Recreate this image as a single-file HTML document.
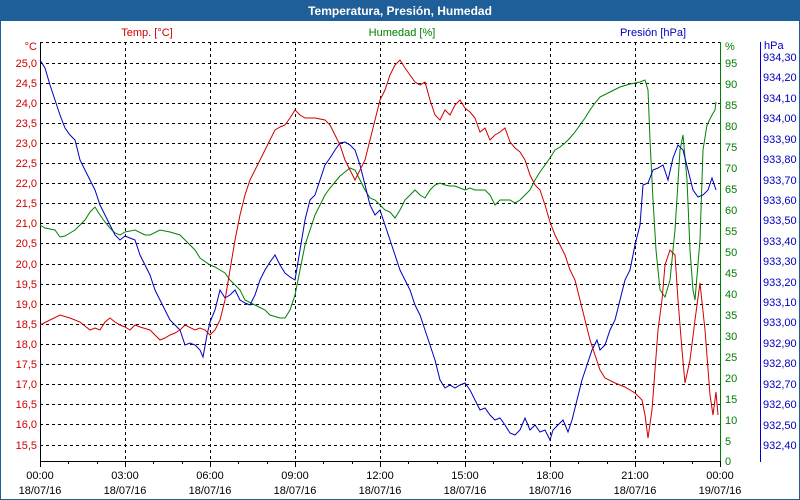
<!DOCTYPE html>
<html><head><meta charset="utf-8"><style>
body{margin:0;background:#fff}
svg{display:block;font-family:"Liberation Sans",sans-serif}
</style></head><body>
<svg width="800" height="500" viewBox="0 0 800 500">
<rect x="0" y="0" width="800" height="500" fill="#fff"/>
<rect x="0.5" y="0.5" width="799" height="499" fill="none" stroke="#1f5f99"/>
<rect x="0" y="0" width="800" height="21" fill="#1f5f99"/>
<text x="400" y="15" fill="#fff" font-size="12" font-weight="bold" text-anchor="middle">Temperatura, Presión, Humedad</text>
<g font-size="11">
<text x="147" y="36" fill="#d00000" text-anchor="middle">Temp. [°C]</text>
<text x="402" y="36" fill="#008000" text-anchor="middle">Humedad [%]</text>
<text x="653" y="36" fill="#0000c0" text-anchor="middle">Presión [hPa]</text>
</g>
<!-- grid -->
<g stroke="#000" stroke-dasharray="3,3" stroke-width="1">
<line x1="40" y1="42.5" x2="720" y2="42.5"/>
<line x1="40" y1="63.5" x2="720" y2="63.5"/><line x1="40" y1="83.5" x2="720" y2="83.5"/><line x1="40" y1="103.5" x2="720" y2="103.5"/><line x1="40" y1="123.5" x2="720" y2="123.5"/><line x1="40" y1="143.5" x2="720" y2="143.5"/><line x1="40" y1="163.5" x2="720" y2="163.5"/><line x1="40" y1="183.5" x2="720" y2="183.5"/><line x1="40" y1="203.5" x2="720" y2="203.5"/><line x1="40" y1="223.5" x2="720" y2="223.5"/><line x1="40" y1="243.5" x2="720" y2="243.5"/><line x1="40" y1="264.5" x2="720" y2="264.5"/><line x1="40" y1="284.5" x2="720" y2="284.5"/><line x1="40" y1="304.5" x2="720" y2="304.5"/><line x1="40" y1="324.5" x2="720" y2="324.5"/><line x1="40" y1="344.5" x2="720" y2="344.5"/><line x1="40" y1="364.5" x2="720" y2="364.5"/><line x1="40" y1="384.5" x2="720" y2="384.5"/><line x1="40" y1="404.5" x2="720" y2="404.5"/><line x1="40" y1="424.5" x2="720" y2="424.5"/><line x1="40" y1="445.5" x2="720" y2="445.5"/>
<line x1="125.5" y1="42" x2="125.5" y2="461"/><line x1="210.5" y1="42" x2="210.5" y2="461"/><line x1="295.5" y1="42" x2="295.5" y2="461"/><line x1="380.5" y1="42" x2="380.5" y2="461"/><line x1="465.5" y1="42" x2="465.5" y2="461"/><line x1="550.5" y1="42" x2="550.5" y2="461"/><line x1="635.5" y1="42" x2="635.5" y2="461"/>
</g>
<!-- axes -->
<line x1="40.5" y1="42" x2="40.5" y2="462" stroke="#000"/>
<line x1="40" y1="461.5" x2="721" y2="461.5" stroke="#000"/>
<line x1="720.5" y1="42" x2="720.5" y2="462" stroke="#008000"/>
<line x1="760.5" y1="42" x2="760.5" y2="462" stroke="#0000c0"/>
<g stroke="#000">
<line x1="40.5" y1="461" x2="40.5" y2="467"/><line x1="68.5" y1="461" x2="68.5" y2="464"/><line x1="97.5" y1="461" x2="97.5" y2="464"/><line x1="125.5" y1="461" x2="125.5" y2="467"/><line x1="153.5" y1="461" x2="153.5" y2="464"/><line x1="182.5" y1="461" x2="182.5" y2="464"/><line x1="210.5" y1="461" x2="210.5" y2="467"/><line x1="238.5" y1="461" x2="238.5" y2="464"/><line x1="267.5" y1="461" x2="267.5" y2="464"/><line x1="295.5" y1="461" x2="295.5" y2="467"/><line x1="323.5" y1="461" x2="323.5" y2="464"/><line x1="352.5" y1="461" x2="352.5" y2="464"/><line x1="380.5" y1="461" x2="380.5" y2="467"/><line x1="408.5" y1="461" x2="408.5" y2="464"/><line x1="437.5" y1="461" x2="437.5" y2="464"/><line x1="465.5" y1="461" x2="465.5" y2="467"/><line x1="493.5" y1="461" x2="493.5" y2="464"/><line x1="522.5" y1="461" x2="522.5" y2="464"/><line x1="550.5" y1="461" x2="550.5" y2="467"/><line x1="578.5" y1="461" x2="578.5" y2="464"/><line x1="607.5" y1="461" x2="607.5" y2="464"/><line x1="635.5" y1="461" x2="635.5" y2="467"/><line x1="663.5" y1="461" x2="663.5" y2="464"/><line x1="692.5" y1="461" x2="692.5" y2="464"/><line x1="720.5" y1="461" x2="720.5" y2="467"/>
</g>
<!-- left labels -->
<g font-size="11" fill="#d00000" text-anchor="end">
<text x="37" y="50">°C</text>
<text x="37" y="67">25,0</text><text x="37" y="87">24,5</text><text x="37" y="107">24,0</text><text x="37" y="127">23,5</text><text x="37" y="147">23,0</text><text x="37" y="167">22,5</text><text x="37" y="187">22,0</text><text x="37" y="207">21,5</text><text x="37" y="227">21,0</text><text x="37" y="247">20,5</text><text x="37" y="268">20,0</text><text x="37" y="288">19,5</text><text x="37" y="308">19,0</text><text x="37" y="328">18,5</text><text x="37" y="348">18,0</text><text x="37" y="368">17,5</text><text x="37" y="388">17,0</text><text x="37" y="408">16,5</text><text x="37" y="428">16,0</text><text x="37" y="449">15,5</text>
</g>
<g font-size="11" fill="#008000">
<text x="725" y="50">%</text>
<text x="725" y="67">95</text><text x="725" y="88">90</text><text x="725" y="109">85</text><text x="725" y="130">80</text><text x="725" y="151">75</text><text x="725" y="172">70</text><text x="725" y="193">65</text><text x="725" y="214">60</text><text x="725" y="235">55</text><text x="725" y="256">50</text><text x="725" y="277">45</text><text x="725" y="298">40</text><text x="725" y="319">35</text><text x="725" y="340">30</text><text x="725" y="361">25</text><text x="725" y="382">20</text><text x="725" y="403">15</text><text x="725" y="424">10</text><text x="725" y="445">5</text><text x="725" y="465">0</text>
</g>
<g font-size="11" fill="#0000c0">
<text x="764" y="49">hPa</text>
<text x="763" y="61">934,30</text><text x="763" y="81">934,20</text><text x="763" y="102">934,10</text><text x="763" y="122">934,00</text><text x="763" y="143">933,90</text><text x="763" y="163">933,80</text><text x="763" y="184">933,70</text><text x="763" y="204">933,60</text><text x="763" y="224">933,50</text><text x="763" y="245">933,40</text><text x="763" y="265">933,30</text><text x="763" y="286">933,20</text><text x="763" y="306">933,10</text><text x="763" y="326">933,00</text><text x="763" y="347">932,90</text><text x="763" y="367">932,80</text><text x="763" y="388">932,70</text><text x="763" y="408">932,60</text><text x="763" y="429">932,50</text><text x="763" y="449">932,40</text>
</g>
<g font-size="11" fill="#000" text-anchor="middle">
<text x="40" y="479">00:00</text><text x="40" y="494">18/07/16</text>
<text x="125" y="479">03:00</text><text x="125" y="494">18/07/16</text>
<text x="210" y="479">06:00</text><text x="210" y="494">18/07/16</text>
<text x="295" y="479">09:00</text><text x="295" y="494">18/07/16</text>
<text x="380" y="479">12:00</text><text x="380" y="494">18/07/16</text>
<text x="465" y="479">15:00</text><text x="465" y="494">18/07/16</text>
<text x="550" y="479">18:00</text><text x="550" y="494">18/07/16</text>
<text x="635" y="479">21:00</text><text x="635" y="494">18/07/16</text>
<text x="720" y="479">00:00</text><text x="720" y="494">19/07/16</text>
</g>
<!-- series -->
<polyline fill="none" stroke="#008000" stroke-width="1" points="40,225 45,228 55,230 60,237 65,236 70,233 75,230 80,225 85,220 90,212 95,207 100,215 105,222 110,228 115,233 120,235 125,232 135,230 145,235 150,235 160,230 170,232 180,235 185,240 195,250 200,258 210,265 215,267 220,270 225,273 230,280 240,290 245,300 255,305 265,310 270,315 280,318 285,318 290,310 295,295 300,270 305,245 310,230 315,215 320,205 325,195 330,188 335,182 340,176 345,172 350,168 355,170 360,180 365,190 370,198 375,200 380,205 385,210 390,212 395,218 400,210 405,200 410,195 415,190 420,195 425,198 430,190 435,185 440,183 445,185 450,186 455,186 460,188 465,190 470,188 475,190 480,190 485,190 490,195 495,205 500,200 505,200 510,200 515,203 520,200 525,195 530,190 535,180 540,172 545,165 550,158 555,150 560,147 565,143 570,138 575,132 580,125 585,118 590,110 595,103 600,97 610,92 620,87 630,84 640,82 645,80 648,90 650,140 653,200 656,250 660,290 665,297 670,280 675,230 680,150 683,135 687,180 690,250 693,290 695,300 700,240 703,150 707,125 712,115 715,110 716,102"/>
<polyline fill="none" stroke="#0000c0" stroke-width="1" points="40,60 45,68 50,85 55,100 60,115 65,128 70,135 75,140 80,160 85,170 90,180 95,190 100,205 105,215 110,225 115,235 120,240 125,236 130,238 135,240 140,255 145,265 150,275 155,290 160,300 165,310 170,320 175,325 180,330 185,345 190,343 195,345 200,350 203,357 207,335 210,322 215,310 220,290 225,298 230,295 235,290 240,300 245,303 250,305 255,295 260,280 265,270 270,262 275,255 280,265 285,273 290,277 295,280 300,250 305,220 310,200 315,195 320,180 325,165 330,158 335,150 340,143 345,142 350,145 355,150 360,165 365,185 370,205 375,215 380,210 385,225 390,240 395,255 400,270 405,280 410,290 415,305 420,315 425,330 430,345 435,360 440,380 445,388 450,385 455,388 460,385 465,383 470,390 475,400 480,410 485,408 490,415 495,420 500,418 505,425 510,433 515,435 520,430 525,418 530,430 535,425 540,432 545,430 550,440 553,430 558,425 563,420 568,432 572,420 577,400 582,380 587,365 592,350 597,340 600,350 605,345 610,330 615,320 620,300 625,280 630,270 635,245 640,225 643,185 648,183 653,170 658,168 663,165 668,180 673,158 678,145 683,150 688,170 693,190 698,197 703,195 708,190 712,178 716,190"/>
<polyline fill="none" stroke="#d00000" stroke-width="1" points="40,325 50,320 60,315 70,318 80,322 90,330 95,328 100,330 105,322 110,318 115,322 120,325 125,327 130,330 135,325 140,327 150,330 155,335 160,340 165,338 170,335 175,333 180,330 185,325 195,330 200,328 205,330 210,335 215,330 220,320 225,300 230,270 235,240 240,215 245,195 250,180 255,170 260,160 265,150 270,140 275,130 280,127 285,125 290,118 295,110 300,115 305,118 315,118 325,120 330,125 335,135 340,145 345,160 350,170 355,180 360,170 365,160 370,140 375,120 380,100 385,90 390,75 395,65 400,60 405,68 410,75 415,82 420,85 425,82 430,100 435,115 440,120 445,110 450,115 455,105 460,100 465,108 470,112 475,118 480,132 485,128 490,140 495,135 500,132 505,128 510,142 515,148 520,152 525,160 530,175 535,185 540,190 545,205 550,222 555,235 560,245 565,255 570,270 575,280 580,300 585,320 590,340 595,355 600,370 605,378 615,383 625,387 635,393 642,400 645,415 648,438 652,410 655,370 658,330 662,300 665,265 670,250 675,255 678,300 682,350 685,383 690,360 695,320 700,283 705,330 710,395 713,415 716,392 718,415"/>
</svg>
</body></html>
